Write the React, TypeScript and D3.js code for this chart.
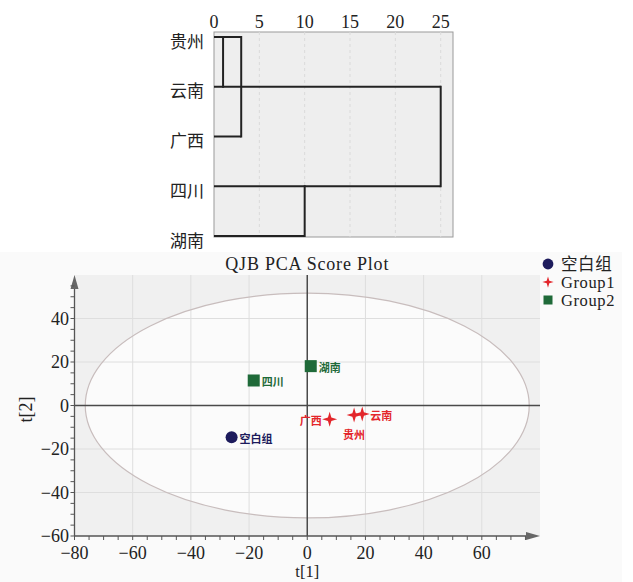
import React from 'react';
import * as d3 from 'd3';

// dendrogram data
const leaves = ['贵州', '云南', '广西', '四川', '湖南'];
const mergeHeights = [1, 3, 10, 25];
const mergeTop = [0, 0, 3, 1];
const mergeBottom = [1, 2, 4, 3];
const distTicks = [0, 5, 10, 15, 20, 25];

// PCA score data
const groups = ['空白组', 'Group1', 'Group2'];
const groupColors = ['#1d1b5c', '#e3262b', '#1f6a39'];
const samples = ['空白组', '广西', '贵州', '云南', '四川', '湖南'];
const sampleGroup = [0, 1, 1, 1, 2, 2];
const t1 = [-26, 7.7, 16.1, 18.9, -18.4, 1.2];
const t2 = [-14.6, -6.3, -4.4, -3.9, 11.5, 18.1];
const labelSide = ['right', 'left', 'below', 'right', 'right', 'right'];
const axisTicks = [-80, -60, -40, -20, 0, 20, 40, 60];
const yTicks = [-60, -40, -20, 0, 20, 40];
const ellipseT1 = 76.3;
const ellipseT2 = 51.7;

const serif = '"Liberation Serif", "Noto Sans CJK SC", serif';
const cjk = '"Noto Sans CJK SC", sans-serif';

function Marker({ g, x, y, s = 1 }: { g: number; x: number; y: number; s?: number }) {
  if (g === 0) return <circle cx={x} cy={y} r={6 * s} fill={groupColors[0]} />;
  if (g === 2) return <rect x={x - 6 * s} y={y - 6 * s} width={12 * s} height={12 * s} fill={groupColors[2]} />;
  const pts: [number, number][] = d3.range(8).map((i) => [(i * Math.PI) / 4, (i % 2 === 0 ? 7.5 : 2.4) * s]);
  const star = d3.lineRadial().curve(d3.curveLinearClosed)(pts) || '';
  return <path d={star} transform={`translate(${x},${y})`} fill={groupColors[1]} />;
}

export default function App() {
  // dendrogram scales
  const dx = d3.scaleLinear().domain([0, 25]).range([214, 440.7]);
  const dy = d3.scalePoint().domain(leaves).range([37, 236]);
  const rowExtent = leaves.map((_, i) =>
    d3.max(mergeHeights.filter((_, m) => mergeTop[m] === i || mergeBottom[m] === i)) || 0
  );

  // PCA scales
  const x = d3.scaleLinear().domain([-80, 80]).range([74.5, 540]);
  const y = d3.scaleLinear().domain([-60, 60]).range([536, 275]);
  const minor = d3.range(-80, 76, 5);
  const minorY = d3.range(-60, 56, 5);
  const ex = x(ellipseT1) - x(0);
  const ey = y(0) - y(ellipseT2);

  return (
    <svg width={633} height={582} style={{ position: 'absolute', left: 0, top: 0, background: '#fff' }}>
      {/* dendrogram */}
      <rect x={214} y={32} width={239} height={205} fill="#eeeeee" stroke="#9a9a9a" strokeWidth={1} />
      {distTicks.slice(1).map((t) => (
        <line key={t} x1={dx(t)} x2={dx(t)} y1={32} y2={237} stroke="#dadada" strokeDasharray="3,3" />
      ))}
      {distTicks.map((t) => (
        <text key={t} x={dx(t)} y={28} textAnchor="middle" fontFamily={serif} fontSize={18} fill="#222">
          {t}
        </text>
      ))}
      {leaves.map((l, i) => (
        <g key={l}>
          <text x={204} y={(dy(l) || 0) + 3} textAnchor="end" dominantBaseline="central" fontFamily={cjk} fontSize={17} fill="#222">
            {l}
          </text>
          <line x1={dx(0)} x2={dx(rowExtent[i])} y1={dy(l)} y2={dy(l)} stroke="#222" strokeWidth={2} />
        </g>
      ))}
      {mergeHeights.map((h, m) => (
        <line key={m} x1={dx(h)} x2={dx(h)} y1={dy(leaves[mergeTop[m]])} y2={dy(leaves[mergeBottom[m]])}
          stroke="#222" strokeWidth={2} strokeLinecap="square" />
      ))}

      {/* PCA score plot */}
      <rect x={0} y={252} width={622} height={330} fill="#fafafa" />
      <rect x={x(-80)} y={y(60)} width={x(80) - x(-80)} height={y(-60) - y(60)} fill="#f0f0f0" />
      <ellipse cx={x(0)} cy={y(0)} rx={ex} ry={ey} fill="#fbfbfb" />
      {axisTicks.filter((t) => t !== 0 && t !== -80).map((t) => (
        <line key={t} x1={x(t)} x2={x(t)} y1={y(-60)} y2={y(60)} stroke="#dedede" />
      ))}
      {yTicks.filter((t) => t !== 0 && t !== -60).map((t) => (
        <line key={t} x1={x(-80)} x2={x(80)} y1={y(t)} y2={y(t)} stroke="#dedede" />
      ))}
      <ellipse cx={x(0)} cy={y(0)} rx={ex} ry={ey} fill="none" stroke="#c8bdbd" strokeWidth={1.2} />
      <line x1={x(0)} x2={x(0)} y1={y(-60)} y2={y(60)} stroke="#4a4a4a" strokeWidth={1.5} />
      <line x1={x(-80)} x2={x(80)} y1={y(0)} y2={y(0)} stroke="#4a4a4a" strokeWidth={1.5} />

      {/* axes */}
      <line x1={x(-80)} x2={x(80) - 6} y1={y(-60)} y2={y(-60)} stroke="#555" strokeWidth={1.3} />
      <path d={`M${x(80)},${y(-60)}l-14,-4l0,8z`} fill="#666" />
      <line x1={x(-80)} x2={x(-80)} y1={y(-60)} y2={y(60) + 6} stroke="#555" strokeWidth={1.3} />
      <path d={`M${x(-80)},${y(60)}l-4,14l8,0z`} fill="#666" />
      {minor.map((t) => (
        <line key={t} x1={x(t)} x2={x(t)} y1={y(-60)} y2={y(-60) + 4} stroke="#555" />
      ))}
      {minorY.map((t) => (
        <line key={t} x1={x(-80) - 4} x2={x(-80)} y1={y(t)} y2={y(t)} stroke="#555" />
      ))}
      {axisTicks.map((t) => (
        <text key={t} x={x(t)} y={559} textAnchor="middle" fontFamily={serif} fontSize={18} fill="#222">
          {d3.format('d')(t)}
        </text>
      ))}
      {yTicks.map((t) => (
        <text key={t} x={69} y={y(t)} textAnchor="end" dominantBaseline="central" fontFamily={serif} fontSize={18} fill="#222">
          {d3.format('d')(t)}
        </text>
      ))}
      <text x={x(0)} y={577} textAnchor="middle" fontFamily={serif} fontSize={16.5} fill="#222">t[1]</text>
      <text transform={`translate(32,${y(0) + 4}) rotate(-90)`} textAnchor="middle" fontFamily={serif} fontSize={18} fill="#222">t[2]</text>
      <text x={x(0)} y={270} textAnchor="middle" fontFamily={serif} fontSize={18} letterSpacing={0.8} fill="#222">QJB PCA Score Plot</text>

      {/* points */}
      {samples.map((s, i) => {
        const px = x(t1[i]);
        const py = y(t2[i]);
        const side = labelSide[i];
        const lx = side === 'right' ? px + 8 : side === 'left' ? px - 8 : px;
        const ly = side === 'below' ? py + 19 : py + 1;
        return (
          <g key={s}>
            <Marker g={sampleGroup[i]} x={px} y={py} />
            <text x={lx} y={ly} textAnchor={side === 'right' ? 'start' : side === 'left' ? 'end' : 'middle'}
              dominantBaseline="central" fontFamily={cjk} fontWeight="bold" fontSize={11} fill={groupColors[sampleGroup[i]]}>
              {s}
            </text>
          </g>
        );
      })}

      {/* legend */}
      {groups.map((g, i) => (
        <g key={g}>
          <Marker g={i} x={548} y={264 + i * 18} s={i === 0 ? 0.9 : 0.75} />
          <text x={561} y={264 + i * 18} dominantBaseline="central" fontFamily={serif} fontSize={16.5} letterSpacing={0.6} fill="#222">{g}</text>
        </g>
      ))}
    </svg>
  );
}
